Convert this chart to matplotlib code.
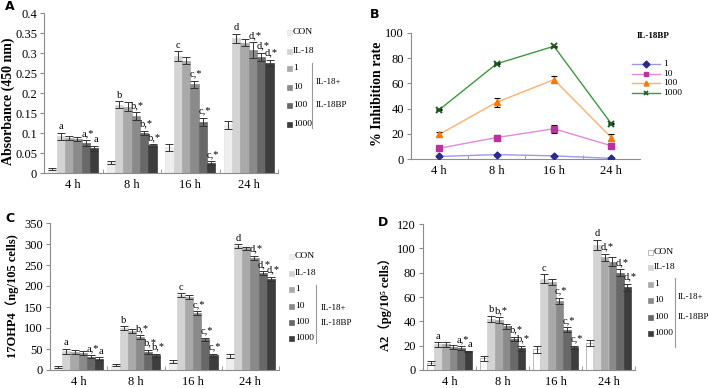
import numpy as np
import matplotlib
matplotlib.use("Agg")
import matplotlib.pyplot as plt
from matplotlib.patches import Rectangle
from matplotlib.lines import Line2D
from matplotlib.ticker import FuncFormatter

plt.rcParams['font.family'] = ['Liberation Serif', 'DejaVu Serif', 'Noto Sans CJK SC']

W, H = 709, 388

times = ['4 h', '8 h', '16 h', '24 h']
groups = ['CON', 'IL-18', '1', '10', '100', '1000']
bar_colors = ['#f0f0f0', '#d3d3d3', '#a9a9a9', '#8a8a8a', '#686868', '#3d3d3d']

# Panel A: absorbance (450 nm), rows = groups, cols = time points
abs_vals = np.array([
    [0.010, 0.027, 0.064, 0.121],
    [0.092, 0.171, 0.292, 0.337],
    [0.088, 0.166, 0.281, 0.326],
    [0.085, 0.142, 0.222, 0.307],
    [0.075, 0.101, 0.128, 0.291],
    [0.062, 0.069, 0.025, 0.275],
])
abs_err = np.array([
    [0.003, 0.004, 0.008, 0.010],
    [0.009, 0.008, 0.012, 0.011],
    [0.005, 0.012, 0.009, 0.009],
    [0.005, 0.010, 0.009, 0.020],
    [0.007, 0.005, 0.010, 0.010],
    [0.006, 0.003, 0.004, 0.008],
])
abs_marks = {(0, 1): 'a', (0, 4): 'a,*', (0, 5): 'a',
             (1, 1): 'b', (1, 3): 'b,*', (1, 4): 'b,*', (1, 5): 'b,*',
             (2, 1): 'c', (2, 3): 'c,*', (2, 4): 'c,*', (2, 5): 'c,*',
             (3, 1): 'd', (3, 3): 'd,*', (3, 4): 'd,*', (3, 5): 'd,*'}

# Panel B: % inhibition rate by IL-18BP dose
doses = ['1', '10', '100', '1000']
inhib = np.array([
    [2.0, 3.5, 2.5, 0.5],
    [8.5, 17.0, 24.0, 10.5],
    [19.5, 45.0, 63.0, 17.0],
    [39.0, 75.5, 89.5, 28.0],
])
inhib_err = np.array([
    [0.5, 0.5, 0.5, 0.5],
    [1.0, 2.0, 3.0, 1.5],
    [2.0, 3.5, 3.0, 3.0],
    [0.5, 0.5, 0.5, 0.5],
])
line_colors = ['#9a9ae6', '#e48ad6', '#ffb070', '#3c9a3c']
marker_colors = ['#2b2b8c', '#b8339e', '#ff7700', '#1d5a1d']
markers = ['D', 's', '^', 'x']

# Panel C: 17OHP4
ohp_vals = np.array([
    [7, 12, 20, 33],
    [45, 100, 178, 295],
    [43, 93, 174, 290],
    [40, 79, 136, 267],
    [32, 43, 73, 231],
    [27, 35, 35, 217],
])
ohp_err = np.array([
    [2, 3, 4, 5],
    [6, 5, 5, 4],
    [4, 5, 4, 4],
    [5, 4, 4, 5],
    [4, 5, 4, 5],
    [3, 4, 4, 5],
])
ohp_marks = abs_marks

# Panel D: A2
a2_vals = np.array([
    [6.0, 9.5, 17.0, 22.5],
    [21.0, 42.0, 75.0, 103.0],
    [21.0, 41.0, 72.0, 92.5],
    [19.0, 36.0, 57.0, 89.0],
    [18.0, 25.5, 33.0, 80.0],
    [15.5, 18.0, 18.5, 68.0],
])
a2_err = np.array([
    [1.5, 2.0, 3.0, 2.5],
    [2.0, 2.5, 3.5, 4.0],
    [2.0, 2.5, 2.5, 3.0],
    [1.5, 2.0, 2.5, 3.5],
    [1.5, 2.0, 2.0, 3.0],
    [0.5, 2.0, 1.5, 3.0],
])
a2_marks = {(0, 1): 'a', (0, 4): 'a,*', (0, 5): 'a',
            (1, 1): 'b', (1, 2): 'b,*', (1, 4): 'b,*', (1, 5): 'b,*',
            (2, 1): 'c', (2, 3): 'c,*', (2, 4): 'c,*', (2, 5): 'c,*',
            (3, 1): 'd', (3, 2): 'd,*', (3, 4): 'd,*', (3, 5): 'd,*'}


def box(l, t, r, b):
    return [l / W, 1 - b / H, (r - l) / W, (b - t) / H]


def fx(x):
    return x / W


def fy(y):
    return 1 - y / H


fig = plt.figure(figsize=(7.09, 3.88), dpi=100)

axA = fig.add_axes(box(44, 13, 278, 173))
axB = fig.add_axes(box(411, 33, 640, 159))
axC = fig.add_axes(box(50, 223, 279, 370))
axD = fig.add_axes(box(423, 224, 635, 370))

spine_col = '#8c8c8c'


def style_axes(ax):
    for s in ['top', 'right']:
        ax.spines[s].set_visible(False)
    for s in ['left', 'bottom']:
        ax.spines[s].set_color(spine_col)
        ax.spines[s].set_linewidth(0.8)
    ax.tick_params(axis='y', direction='out', length=3, color=spine_col, labelsize=9, pad=2)
    ax.set_xticks(range(len(times)))
    ax.set_xticklabels(times, fontsize=9)
    ax.tick_params(axis='x', which='major', length=0, pad=4)
    ax.set_xticks([0.5, 1.5, 2.5, 3.5], minor=True)
    ax.tick_params(axis='x', which='minor', direction='in', length=3, color=spine_col)


def bar_panel(ax, vals, errs, marks, ylim, step, con_face, con_edge):
    n = vals.shape[0]
    bw = 0.142
    x = np.arange(len(times))
    for i in range(n):
        xs = x + (i - (n - 1) / 2) * bw
        face = con_face if i == 0 else bar_colors[i]
        edge = con_edge if i == 0 else face
        ax.bar(xs, vals[i], bw, color=face, edgecolor=edge, linewidth=0.5, zorder=2)
        ax.errorbar(xs, vals[i], yerr=errs[i], fmt='none', ecolor='#333333',
                    elinewidth=0.7, capsize=2.6, capthick=0.7, zorder=3)
    for (g, i), lab in marks.items():
        xb = g + (i - (n - 1) / 2) * bw
        top = vals[i, g] + errs[i, g]
        if len(lab) > 1:
            ax.annotate(lab, (xb - bw * 0.55, top), xytext=(0, 1.5), textcoords='offset points',
                        ha='left', va='bottom', fontsize=7.5)
        else:
            dx = 0.25 * bw if i == n - 1 else 0
            ax.annotate(lab, (xb + dx, top), xytext=(0, 1), textcoords='offset points',
                        ha='center', va='bottom', fontsize=7.5)
    ax.set_xlim(-0.5, 3.5)
    ax.set_ylim(*ylim)
    ax.set_yticks(np.arange(ylim[0], ylim[1] + step / 2, step))
    ax.yaxis.set_major_formatter(FuncFormatter(lambda v, p: '%g' % round(v, 3)))
    style_axes(ax)


bar_panel(axA, abs_vals, abs_err, abs_marks, (0, 0.4), 0.05, '#eeeeee', '#e4e4e4')
bar_panel(axC, ohp_vals, ohp_err, ohp_marks, (0, 350), 50, '#eeeeee', '#e4e4e4')
bar_panel(axD, a2_vals, a2_err, a2_marks, (0, 120), 20, 'white', '#a0a0a0')

axA.set_ylabel('Absorbance (450 nm)', fontsize=10, fontweight='bold')
axA.yaxis.set_label_coords(-0.125, 0.45)
axC.set_ylabel('17OHP4（ng/105 cells)', fontsize=9, fontweight='bold')
axC.yaxis.set_label_coords(-0.135, 0.50)
axD.set_ylabel('A2（pg/10⁵ cells）', fontsize=9, fontweight='bold')
axD.yaxis.set_label_coords(-0.146, 0.47)

# Panel B lines
xb = np.arange(len(times))
for i in range(len(doses)):
    axB.plot(xb, inhib[i], color=line_colors[i], lw=1.0, zorder=2)
    axB.errorbar(xb, inhib[i], yerr=inhib_err[i], fmt='none', ecolor='black',
                 elinewidth=0.8, capsize=2.5, capthick=0.8, zorder=3)
    if markers[i] == 'x':
        axB.plot(xb, inhib[i], ls='none', marker='x', ms=4, mew=1.4, color=marker_colors[i], zorder=4)
    else:
        axB.plot(xb, inhib[i], ls='none', marker=markers[i], ms=4.5 if markers[i] != 'D' else 3.5,
                 color=marker_colors[i], zorder=4)
axB.set_xlim(-0.49, 3.36)
axB.set_ylim(0, 100)
axB.set_yticks(np.arange(0, 101, 20))
style_axes(axB)
axB.set_xticks([0.5, 1.5, 2.5], minor=True)
axB.set_ylabel('% Inhibition rate', fontsize=10, fontweight='bold')
axB.yaxis.set_label_coords(-0.118, 0.52)

fig.text(fx(637), fy(36), 'IL-18BP', fontsize=6.5, fontweight='bold', va='center')
for i, (lab, yy) in enumerate(zip(doses, [64, 74, 83, 93])):
    fig.add_artist(Line2D([fx(632), fx(660)], [fy(yy), fy(yy)], color=line_colors[i], lw=1.0))
    fig.add_artist(Line2D([fx(646)], [fy(yy)], ls='none', marker=markers[i],
                          ms=3.5, mew=1.2 if markers[i] == 'x' else 1,
                          color=marker_colors[i]))
    fig.text(fx(663), fy(yy), lab, fontsize=6.8, va='center')


# bar legends
def bar_legend(px, rows, vline, tx, ty, con_face, con_edge):
    for i, (lab, yy) in enumerate(zip(groups, rows)):
        face = con_face if i == 0 else bar_colors[i]
        edge = con_edge if i == 0 else face
        fig.add_artist(Rectangle((fx(px), fy(yy + 2.5)), 5 / W, 5 / H, transform=fig.transFigure,
                                 facecolor=face, edgecolor=edge, lw=0.5))
        fig.text(fx(px + 6), fy(yy), lab, fontsize=6.8, va='center')
    fig.add_artist(Line2D([fx(vline[0]), fx(vline[0])], [fy(vline[1]), fy(vline[2])],
                          color='#999999', lw=0.8))
    fig.text(fx(tx), fy(ty[0]), 'IL-18+', fontsize=6.5, va='center')
    fig.text(fx(tx), fy(ty[1]), 'IL-18BP', fontsize=6.5, va='center')


bar_legend(287, [32, 51, 68, 87, 105, 124], (312, 63, 128), 316, (82, 105), '#eeeeee', '#e4e4e4')
bar_legend(289, [256, 273, 289, 306, 322, 338], (316, 285, 343), 321, (308, 323), '#eeeeee', '#e4e4e4')
bar_legend(648, [252, 267, 284, 300, 317, 333], (675, 278, 347), 678, (297, 317), 'white', '#a0a0a0')

# panel letters
for lab, x, y in [('A', 10, 6), ('B', 375, 15), ('C', 10, 219), ('D', 383, 223)]:
    fig.text(fx(x), fy(y), lab, fontsize=9, fontweight='bold', family='DejaVu Sans',
             ha='center', va='center')

fig.savefig('out.png', dpi=100)
